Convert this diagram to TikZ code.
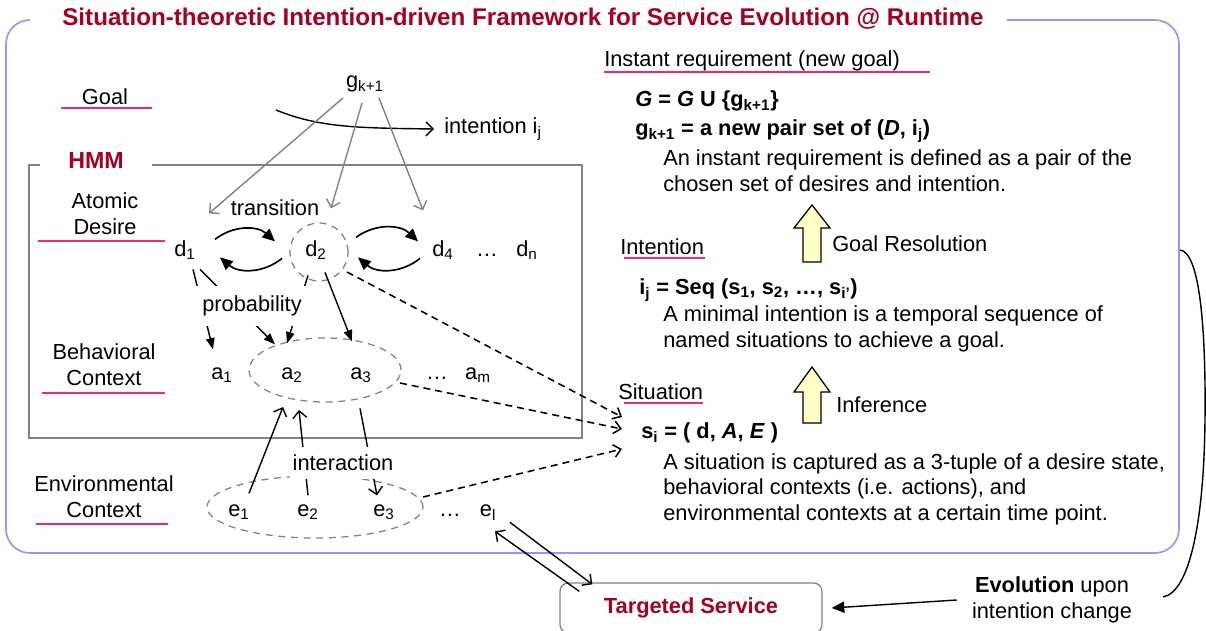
\documentclass[tikz,border=0pt]{standalone}
\usepackage{fontspec}
\setmainfont{Liberation Sans}
\usetikzlibrary{arrows.meta,shapes.geometric}
\definecolor{titlered}{RGB}{165,0,33}
\definecolor{ulpink}{RGB}{240,40,110}
\definecolor{framebl}{RGB}{150,150,250}
\definecolor{hmmgray}{RGB}{130,130,130}
\definecolor{blockyel}{RGB}{255,255,200}
\newcommand{\sbs}[1]{\textsubscript{#1}}

\begin{document}
\begin{tikzpicture}[x=0.025cm, y=-0.025cm,
  font=\fontsize{15.5}{18.2}\selectfont,
  every node/.style={inner sep=0pt},
  lbl/.style={align=center},
  desc/.style={anchor=west, align=left},
  var/.style={anchor=base, text height=9pt, text depth=1pt},
  uline/.style={draw=ulpink, line width=1.4pt},
  frame/.style={draw=framebl, line width=1.2pt},
  hmmbox/.style={draw=hmmgray, line width=1pt},
  dashell/.style={ellipse, draw=hmmgray, line width=0.9pt, dash pattern=on 5pt off 4pt},
  garr/.style={draw=hmmgray, line width=1pt, -{Straight Barb[length=5pt,width=10pt]}},
  trans/.style={line width=1.2pt, -{Triangle[length=9pt,width=8pt]}},
  probarr/.style={line width=1pt, -{Triangle[length=8pt,width=6pt]}},
  openarr/.style={line width=1pt, -{Straight Barb[length=5pt,width=10pt]}},
  dasharr/.style={line width=1.1pt, dash pattern=on 5pt off 3.5pt, -{Straight Barb[length=5pt,width=9pt]}},
  yblock/.style={draw, fill=blockyel, line width=0.9pt},
  svcbox/.style={draw=hmmgray, rounded corners=6pt, line width=0.9pt, minimum width=6.55cm, minimum height=1.25cm}
]
\useasboundingbox (0,0) rectangle (1206,631);

% outer frame and title
\draw[frame, rounded corners=0.6cm] (1007,20) -- (1179,20) -- (1179,553) -- (6,553) -- (6,20) -- (30,20);
\node[font=\fontsize{17.2}{19}\selectfont\bfseries, text=titlered] (title) at (523,19) {Situation-theoretic Intention-driven Framework for Service Evolution @ Runtime};

% left labels
\node[lbl] (goal) at (105,97) {Goal};
\node[lbl] (atomic) at (105,214) {Atomic\\Desire};
\node[lbl] (behav) at (104,365) {Behavioral\\Context};
\node[lbl] (envir) at (104,497) {Environmental\\Context};
\draw[uline] (61,108) -- (152,108);
\draw[uline] (38,241) -- (165,241);
\draw[uline] (42,393) -- (165,393);
\draw[uline] (36,524) -- (168,524);

% HMM box
\draw[hmmbox] (40,165) -- (29,165) -- (29,438) -- (582,438) -- (582,165) -- (152,165);
\node[font=\fontsize{16.5}{19}\selectfont\bfseries, text=titlered] (hmm) at (96,161) {HMM};

% goal and intention
\node (g) at (365,84) {g\sbs{k+1}};
\node[anchor=west] (intent) at (444,129) {intention i\sbs{j}};
\coordinate (curvestart) at (276,110);
\draw[openarr] (curvestart) .. controls (320,128) and (360,128) .. ([shift={(-10,0)}]intent.west);

% desires
\node[var] (d1) at (185,256) {d\sbs{1}};
\node[var] (d2) at (316,256) {d\sbs{2}};
\node[var] (d4) at (443,256) {d\sbs{4}};
\node[var] (ddots) at (487,256) {…};
\node[var] (dn) at (527,256) {d\sbs{n}};
\node[circle, draw=hmmgray, line width=0.9pt, dash pattern=on 5pt off 4pt, minimum size=1.45cm] (c2) at (319,252) {};
\node (trlbl) at (275,208) {transition};

% actions
\node[var] (a1) at (222,379) {a\sbs{1}};
\node[var] (a2) at (292,379) {a\sbs{2}};
\node[var] (a3) at (361,379) {a\sbs{3}};
\node[var] (adots) at (437,379) {…};
\node[var] (am) at (478,379) {a\sbs{m}};
\node[dashell, minimum width=3.8cm, minimum height=1.6cm] (aell) at (325,370) {};

% environment
\node[var] (e1) at (239,516) {e\sbs{1}};
\node[var] (e2) at (308,516) {e\sbs{2}};
\node[var] (e3) at (384,516) {e\sbs{3}};
\node[var] (edots) at (450,516) {…};
\node[var] (el) at (488,516) {e\sbs{l}};
\node[dashell, minimum width=5.4cm, minimum height=1.55cm] (eell) at (315,507) {};

% goal to desires
\draw[garr] ([shift={(-22,14)}]g.center) -- ([shift={(24,-37)}]d1.center);
\draw[garr] ([shift={(-3,19)}]g.center) -- ([shift={(15,-42)}]d2.center);
\draw[garr] ([shift={(14,14)}]g.center) -- ([shift={(-20,-40)}]d4.center);

% transitions
\draw[trans] ([shift={(30,-11)}]d1.center) to[bend left=40] ([shift={(-41,-9)}]d2.center);
\draw[trans] ([shift={(-34,8)}]d2.center) to[bend left=40] ([shift={(35,7)}]d1.center);
\draw[trans] ([shift={(40,-13)}]d2.center) to[bend left=40] ([shift={(-25,-9)}]d4.center);
\draw[trans] ([shift={(-23,8)}]d4.center) to[bend left=40] ([shift={(42,7)}]d2.center);

% probabilities
\draw[probarr] ([shift={(8,19)}]d1.center) -- ([shift={(-9,-24)}]a1.center);
\draw[probarr] ([shift={(15,19)}]d1.center) -- ([shift={(-17,-29)}]a2.center);
\draw[probarr] ([shift={(-8,25)}]d2.center) -- ([shift={(-5,-30)}]a2.center);
\draw[probarr] ([shift={(9,22)}]d2.center) -- ([shift={(-9,-32)}]a3.center);
\node[fill=white, inner xsep=6pt, inner ysep=7pt] (prob) at (252,306) {probability};

% interactions
\draw[openarr] ([shift={(10,-17)}]e1.center) -- ([shift={(-42,37)}]aell.center);
\draw[openarr] ([shift={(0,-15)}]e2.center) -- ([shift={(-26,40)}]aell.center);
\draw[openarr] ([shift={(-1,35)}]a3.center) -- ([shift={(-7,-15)}]e3.center);
\node[fill=white, inner xsep=2pt, inner ysep=6pt] (inter) at (343,463) {interaction};

% right column
\node[anchor=west] (instreq) at (604,61) {Instant requirement (new goal)};
\draw[uline] (604,72) -- (930,72);
\node[anchor=west] (gdef) at (635,101) {\textbf{\textit{G} = \textit{G} U \{g\sbs{k+1}\}}};
\node[anchor=west] (gnew) at (635,131) {\textbf{g\sbs{k+1} = a new pair set of (\textit{D}, i\sbs{j})}};
\node[desc] (instdesc) at (663,171) {An instant requirement is defined as a pair of the\\chosen set of desires and intention.};

\draw[yblock] (803,262) -- (803,228) -- (794,228) -- (812,205) -- (830,228) -- (821,228) -- (821,262) -- cycle;
\node[anchor=west] (goalres) at (832,244) {Goal Resolution};

\node[anchor=west] (intlbl) at (620,247) {Intention};
\draw[uline] (624,258) -- (705,258);
\node[anchor=west] (ij) at (639,290) {\textbf{i\sbs{j} = Seq (s\sbs{1}, s\sbs{2}, …, s\sbs{i'})}};
\node[desc] (intdesc) at (663,329) {A minimal intention is a temporal sequence of\\named situations to achieve a goal.};

\draw[yblock] (803,423) -- (803,392) -- (794,392) -- (812,367) -- (830,392) -- (821,392) -- (821,423) -- cycle;
\node[anchor=west] (infer) at (836,405) {Inference};

\node[anchor=west] (sitlbl) at (618,392) {Situation};
\draw[uline] (624,403) -- (703,403);
\node[anchor=west] (si) at (641,433) {\textbf{s\sbs{i} = ( d, \textit{A}, \textit{E} )}};
\node[desc] (sitdesc) at (663,489) {A situation is captured as a 3-tuple of a desire state,\\behavioral contexts (i.e. actions), and\\environmental contexts at a certain time point.};

% to the situation
\draw[dasharr] ([shift={(28,20)}]c2.center) -- ([shift={(-19,-16)}]si.west);
\draw[dasharr] ([shift={(75,13)}]aell.center) -- ([shift={(-19,-4)}]si.west);
\draw[dasharr] ([shift={(108,-10)}]eell.center) -- ([shift={(-19,16)}]si.west);

% service and evolution
\node[svcbox, font=\fontsize{15.5}{18.2}\selectfont\bfseries, text=titlered] (svc) at (691,608) {Targeted Service};
\draw[openarr] ([shift={(20,9)}]svc.north west) -- ([shift={(7,21)}]el.center);
\draw[openarr] ([shift={(22,12)}]el.center) -- ([shift={(33,2)}]svc.north west);
\node[lbl] (evo) at (1052,600) {\textbf{Evolution} upon\\intention change};
\draw[trans, line width=1pt] ([shift={(-15,0)}]evo.west) -- ([shift={(9,0)}]svc.east);
\coordinate (loopin) at (1180,250);
\coordinate (loopout) at (1163,597);
\draw[line width=1pt] (loopin) .. controls (1200,252) and (1206,330) .. (1205,420) .. controls (1204,520) and (1190,592) .. (loopout);
\end{tikzpicture}
\end{document}
